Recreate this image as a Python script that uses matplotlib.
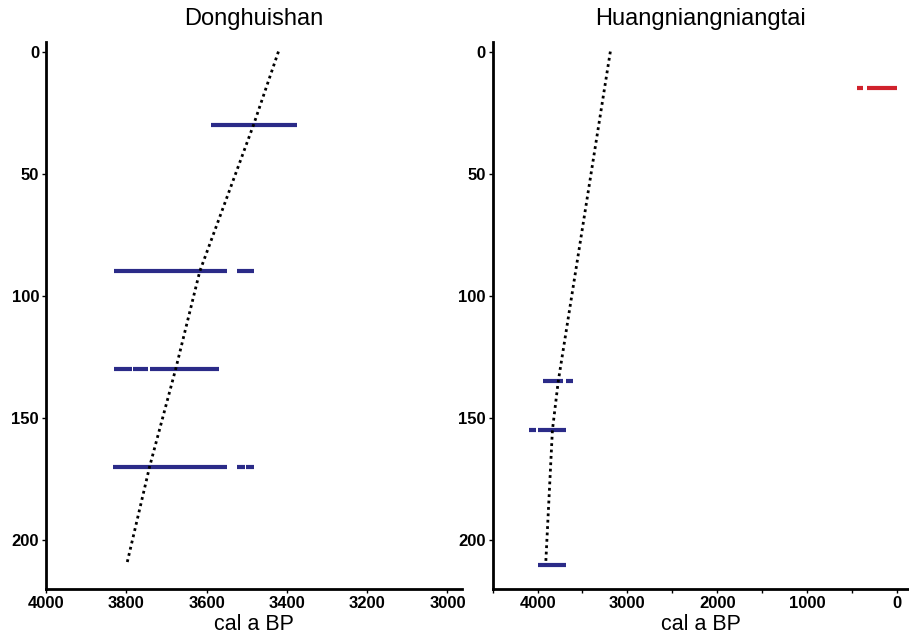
import matplotlib
matplotlib.use("Agg")
import matplotlib.pyplot as plt

plt.rcParams["font.family"] = ["Liberation Sans", "DejaVu Sans"]

# Donghuishan: calibrated age ranges (cal a BP) per sample depth
dh_depths = [30, 90, 90, 130, 130, 130, 170, 170, 170]
dh_old = [3590, 3830, 3525, 3830, 3783, 3741, 3833, 3523, 3501]
dh_young = [3375, 3550, 3483, 3786, 3745, 3570, 3550, 3505, 3483]
# age-depth model
dh_model_depth = [0, 30, 90, 130, 170, 210]
dh_model_age = [3421, 3483, 3617, 3677, 3742, 3799]

# Huangniangniangtai
hn_depths = [15, 15, 135, 135, 155, 155, 210]
hn_old = [445, 335, 3935, 3680, 4100, 3990, 4000]
hn_young = [380, 0, 3720, 3610, 4020, 3680, 3680]
hn_colors = ["#d0222c", "#d0222c", "#2b2b88", "#2b2b88", "#2b2b88", "#2b2b88", "#2b2b88"]
hn_model_depth = [0, 135, 155, 210]
hn_model_age = [3190, 3770, 3835, 3910]

fig = plt.figure(figsize=(9.09, 6.37), dpi=100)
ax1 = fig.add_axes([0.0506, 0.0754, 0.458, 0.859])
ax2 = fig.add_axes([0.542, 0.0754, 0.458, 0.859])


def style(ax):
    for s in ["top", "right"]:
        ax.spines[s].set_visible(False)
    for s in ["left", "bottom"]:
        ax.spines[s].set_linewidth(2)
    ax.tick_params(axis="both", labelsize=12, length=3, width=1, pad=2)
    for lab in ax.get_xticklabels() + ax.get_yticklabels():
        lab.set_fontweight("bold")
    ax.set_ylim(220, -4)
    ax.set_yticks([0, 50, 100, 150, 200])
    ax.set_xlabel("cal a BP", fontsize=15.5, labelpad=2)


ax1.hlines(dh_depths, dh_old, dh_young, color="#2b2b88", linewidth=3)
ax1.plot(dh_model_age, dh_model_depth, color="black", linestyle=(0, (1, 1.3)), linewidth=2)
ax1.set_xlim(4000, 2963)
ax1.set_xticks([4000, 3800, 3600, 3400, 3200, 3000])
ax1.set_title("Donghuishan", fontsize=17, pad=12)
style(ax1)

ax2.hlines(hn_depths, hn_old, hn_young, colors=hn_colors, linewidth=3)
ax2.plot(hn_model_age, hn_model_depth, color="black", linestyle=(0, (1, 1.3)), linewidth=2)
ax2.set_xlim(4500, -135)
ax2.set_xticks([4000, 3000, 2000, 1000, 0])
ax2.set_xticks([4500, 3500, 2500, 1500, 500], minor=True)
ax2.tick_params(axis="x", which="minor", length=3, width=1)
ax2.set_title("Huangniangniangtai", fontsize=17, pad=12)
style(ax2)

fig.savefig("out.png", dpi=100)
